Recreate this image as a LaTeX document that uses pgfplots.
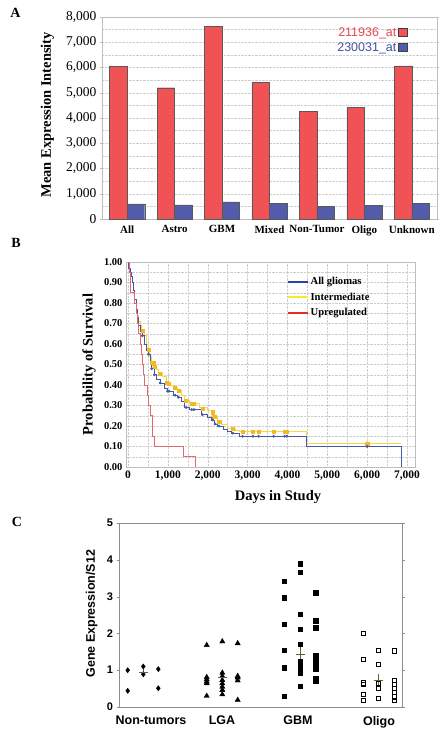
\documentclass[border=0pt]{standalone}
\usepackage{pgfplots}
\pgfplotsset{compat=1.18}
\usepackage{fontspec}
\setmainfont{Liberation Serif}
\newfontfamily\arial{Liberation Sans}
\definecolor{barred}{RGB}{240,82,86}
\definecolor{barblue}{RGB}{82,92,170}
\definecolor{txtred}{RGB}{228,72,82}
\definecolor{txtblue}{RGB}{70,80,160}
\definecolor{kmblue}{RGB}{70,88,168}
\definecolor{kmyel}{RGB}{245,215,75}
\definecolor{kmyelmark}{RGB}{242,185,35}
\definecolor{kmred}{RGB}{228,105,105}
\definecolor{legblue}{RGB}{45,65,165}
\definecolor{legyel}{RGB}{250,235,40}
\definecolor{legred}{RGB}{225,45,45}
\definecolor{meancol}{RGB}{95,95,55}
\definecolor{gridgray}{RGB}{205,205,205}
\definecolor{framegray}{RGB}{190,190,190}
\begin{document}
\begin{tikzpicture}
\path (0pt,0pt) rectangle (444pt,-733pt);
\node[font=\bfseries\fontsize{14}{14}\selectfont] at (15.5pt,-12.5pt) {A};
\node[font=\bfseries\fontsize{14}{14}\selectfont] at (16pt,-243pt) {B};
\node[font=\bfseries\fontsize{14}{14}\selectfont] at (17pt,-522pt) {C};

% ---------------- Panel A ----------------
\begin{axis}[
  at={(102pt,-219pt)}, anchor=south west, scale only axis,
  width=335pt, height=202pt,
  xmin=-0.53, xmax=6.53, ymin=0, ymax=8000,
  xtick={0,...,6},
  xticklabels={All,Astro,GBM,Mixed,Non-Tumor,Oligo,Unknown},
  major x tick style={draw=none},
  ytick={0,1000,...,8000}, minor y tick num=1,
  scaled y ticks=false,
  ymajorgrids, yminorgrids,
  major grid style={densely dotted, gridgray},
  minor grid style={densely dotted, gridgray},
  axis line style={framegray},
  y tick style={framegray}, tick align=outside, major tick length=2pt, minor tick length=0pt,
  /pgf/number format/assume math mode=true,
  /pgf/number format/1000 sep={,},
  xticklabel style={font=\bfseries\fontsize{11}{11}\selectfont, yshift=-1pt},
  yticklabel style={font=\fontsize{13.5}{13.5}\selectfont},
  ylabel={Mean Expression Intensity},
  ylabel style={at={(axis description cs:-0.163,0.516)}, anchor=center, font=\bfseries\fontsize{14.5}{14.5}\selectfont},
  ybar, bar width=0.37,
  legend plot pos=right,
  legend cell align=right,
  legend style={at={(0.912,0.957)}, anchor=north east, draw=none, fill=none,
    font=\arial\fontsize{12.5}{13}\selectfont, inner sep=0pt, row sep=0.5pt},
  legend image code/.code={\draw[#1,draw=black!75] (0pt,-3.5pt) rectangle (8.5pt,4.5pt);},
]
\addplot[fill=barred, draw=black!65, bar shift=-0.185] coordinates {
  (0,6050) (1,5200) (2,7630) (3,5410) (4,4270) (5,4430) (6,6060)};
\addplot[fill=barblue, draw=black!65, bar shift=0.185] coordinates {
  (0,600) (1,560) (2,680) (3,630) (4,490) (5,530) (6,630)};
\legend{\textcolor{txtred}{211936\_at},\textcolor{txtblue}{230031\_at}}
\end{axis}

% ---------------- Panel B ----------------
\begin{axis}[
  at={(126pt,-467pt)}, anchor=south west, scale only axis,
  width=289pt, height=205pt,
  xmin=-50, xmax=7200, ymin=0, ymax=1,
  xtick={0,1000,2000,3000,4000,5000,6000,7000}, minor x tick num=1,
  ytick={0,0.1,0.2,0.3,0.4,0.5,0.6,0.7,0.8,0.9,1.0}, minor y tick num=1,
  scaled x ticks=false,
  grid=both,
  major grid style={densely dotted, gridgray},
  minor grid style={densely dotted, gridgray},
  axis line style={framegray},
  tick style={draw=none},
  /pgf/number format/assume math mode=true,
  xticklabel style={font=\bfseries\fontsize{11.5}{11.5}\selectfont, /pgf/number format/1000 sep={,}},
  yticklabel style={font=\bfseries\fontsize{10.5}{10.5}\selectfont,
    /pgf/number format/.cd, fixed, fixed zerofill, precision=2},
  xlabel={Days in Study},
  xlabel style={at={(axis description cs:0.526,-0.146)}, anchor=center, font=\bfseries\fontsize{14.5}{14.5}\selectfont},
  ylabel={Probability of Survival},
  ylabel style={at={(axis description cs:-0.128,0.5)}, anchor=center, font=\bfseries\fontsize{14.5}{14.5}\selectfont},
  legend cell align=left,
  legend style={at={(0.555,0.935)}, anchor=north west, draw=none, fill=none,
    font=\bfseries\fontsize{10.6}{11}\selectfont, row sep=2.5pt, inner sep=0pt},
  legend image code/.code={\draw[#1, line width=2pt] (0pt,0pt) -- (20pt,0pt);},
]
% Intermediate
\addplot[kmyel, line width=0.7pt, const plot, forget plot] coordinates {
 (0,1.00)(20,0.97)(50,0.95)(80,0.93)(110,0.90)(140,0.86)(170,0.82)(200,0.77)
 (230,0.74)(260,0.71)(300,0.69)(340,0.67)(400,0.64)(460,0.60)(500,0.575)
 (540,0.54)(580,0.51)(650,0.49)(700,0.475)(760,0.46)(850,0.44)(950,0.415)
 (1050,0.40)(1150,0.39)(1250,0.375)(1350,0.35)(1420,0.325)(1550,0.31)
 (1800,0.29)(2000,0.275)(2080,0.267)(2160,0.245)(2250,0.225)(2350,0.21)
 (2500,0.19)(2700,0.18)(2800,0.172)(4480,0.115)(6860,0.115)};
\addplot[only marks, mark=square*, mark size=1.6pt, color=kmyelmark, forget plot] coordinates {
 (360,0.663)(510,0.571)(595,0.51)(637,0.506)(662,0.49)(804,0.457)(972,0.41)
 (1013,0.405)(1181,0.387)(1265,0.372)(1457,0.322)(1600,0.31)(1658,0.31)
 (1868,0.286)(2119,0.267)(2161,0.245)(2286,0.221)(2630,0.185)(2873,0.172)
 (3133,0.172)(3275,0.172)(3652,0.172)(3928,0.172)(3987,0.172)(6000,0.115)};
% All gliomas
\addplot[kmblue, line width=0.7pt, const plot, forget plot] coordinates {
 (0,1.00)(20,0.97)(50,0.95)(80,0.93)(110,0.90)(140,0.86)(170,0.82)(200,0.77)
 (230,0.73)(260,0.69)(300,0.66)(350,0.64)(400,0.60)(450,0.57)(500,0.55)
 (560,0.50)(590,0.48)(650,0.45)(720,0.43)(800,0.41)(900,0.385)(980,0.37)
 (1150,0.35)(1250,0.34)(1350,0.32)(1420,0.29)(1550,0.28)(1850,0.255)
 (2000,0.24)(2100,0.23)(2170,0.21)(2250,0.20)(2400,0.185)(2500,0.175)
 (2600,0.165)(2800,0.15)(4480,0.10)(6860,0.0)};
\addplot[only marks, mark=*, mark size=1.2pt, color=kmblue, forget plot] coordinates {
 (360,0.64)(510,0.55)(595,0.48)(662,0.45)(804,0.41)(989,0.37)(1030,0.37)
 (1181,0.35)(1265,0.34)(1457,0.29)(1600,0.28)(1658,0.28)(1868,0.255)
 (2119,0.23)(2186,0.21)(2286,0.20)(2630,0.165)(2873,0.15)(3133,0.15)
 (3275,0.15)(3652,0.15)(3928,0.15)(3987,0.15)(6000,0.10)};
% Upregulated
\addplot[kmred, line width=0.7pt, const plot, forget plot] coordinates {
 (0,1.00)(30,0.95)(60,0.85)(170,0.80)(200,0.75)(230,0.70)(270,0.65)(300,0.60)
 (330,0.55)(350,0.50)(380,0.45)(420,0.40)(480,0.35)(520,0.30)(560,0.25)
 (600,0.20)(620,0.15)(660,0.10)(1380,0.05)(1690,0.00)};
\addlegendimage{legblue}
\addlegendentry{All gliomas}
\addlegendimage{legyel}
\addlegendentry{Intermediate}
\addlegendimage{legred}
\addlegendentry{Upregulated}
\end{axis}

% ---------------- Panel C ----------------
\begin{axis}[
  at={(119pt,-707pt)}, anchor=south west, scale only axis,
  width=283pt, height=184pt,
  xmin=119, xmax=402, ymin=0, ymax=5,
  xtick={151,222,298,379},
  xticklabels={Non-tumors,LGA,GBM,Oligo},
  major x tick style={draw=none},
  ytick={0,1,2,3,4,5},
  axis line style={draw=black!45, line width=0.8pt},
  y tick style={black!45}, tick align=outside, major tick length=2.5pt,
  /pgf/number format/assume math mode=true,
  xticklabel style={font=\arial\bfseries\fontsize{12.5}{12.5}\selectfont, yshift=-3pt},
  yticklabel style={font=\arial\bfseries\fontsize{11}{11}\selectfont},
  ylabel={Gene Expression/S12},
  ylabel style={at={(axis description cs:-0.097,0.507)}, anchor=center, font=\arial\bfseries\fontsize{12.5}{12.5}\selectfont},
]
\addplot[only marks, mark=diamond*, mark size=2.6pt, black] coordinates {
 (127.7,1.00)(127.7,0.44)(143.3,1.10)(143.3,0.89)(158.3,1.03)(158.3,0.51)};
\addplot[only marks, mark=triangle*, mark size=3pt, black] coordinates {
 (206.7,1.68)(206.7,0.81)(206.7,0.75)(206.7,0.69)(206.7,0.64)(206.7,0.30)
 (222.3,1.78)(222.3,0.93)(222.3,0.84)(222.3,0.73)(222.3,0.64)(222.3,0.55)(222.3,0.46)(222.3,0.34)
 (237.7,1.73)(237.7,0.84)(237.7,0.80)(237.7,0.72)(237.7,0.19)};
\addplot[only marks, mark=square*, mark size=2.2pt, black] coordinates {
 (284,3.42)(284,2.97)(284,2.25)(284,1.55)(284,1.07)(284,0.30)
 (300,3.89)(300,3.66)(300,2.53)(300,2.11)(300,1.70)(300,1.23)(300,1.11)(300,1.01)(300,0.92)(300,0.57)
 (315.7,3.11)(315.7,2.35)(315.7,2.16)(315.7,1.39)(315.7,1.28)(315.7,1.14)(315.7,1.02)(315.7,0.78)(315.7,0.72)};
\addplot[only marks, mark=square, mark size=2.1pt, black, mark options={line width=0.6pt}] coordinates {
 (363.3,2.00)(363.3,1.30)(363.3,0.66)(363.3,0.62)(363.3,0.34)(363.3,0.19)
 (378.3,1.55)(378.3,1.17)(378.3,0.64)(378.3,0.51)(378.3,0.24)
 (394,1.53)(394,0.73)(394,0.62)(394,0.51)(394,0.39)(394,0.28)(394,0.19)};
\addplot[only marks, mark=-, mark size=4.5pt, meancol, mark options={line width=1pt},
  error bars/.cd, y dir=both, y explicit,
  error mark=-, error mark options={mark size=2.5pt, meancol, line width=0.8pt},
  error bar style={meancol, line width=0.8pt}] coordinates {
 (143.3,0.95) +- (0,0.08)
 (222.3,0.80) +- (0,0.06)
 (300,1.43) +- (0,0.20)
 (378.3,0.72) +- (0,0.10)};
\end{axis}
\end{tikzpicture}
\end{document}
